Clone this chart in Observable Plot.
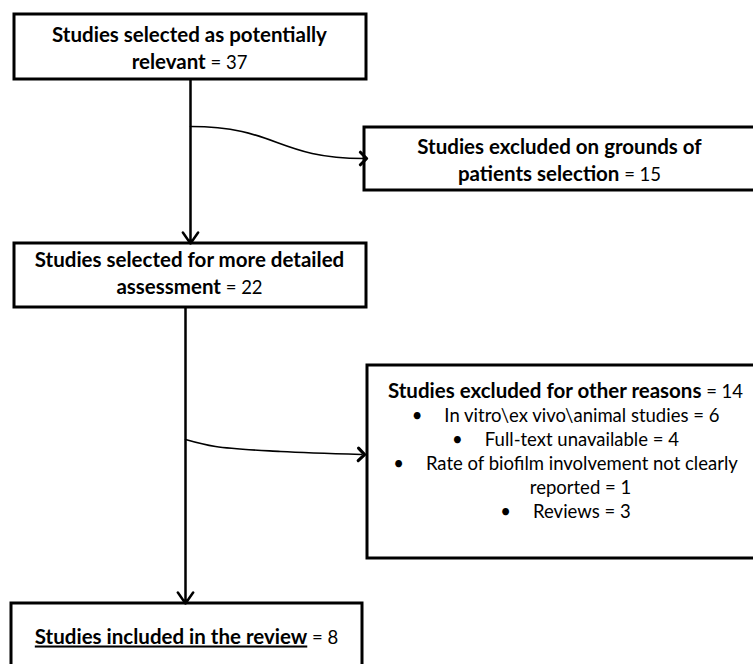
<!DOCTYPE html>
<html><head><meta charset="utf-8">
<script src="https://cdn.jsdelivr.net/npm/d3@7"></script>
<script src="https://cdn.jsdelivr.net/npm/@observablehq/plot@0.6"></script>
<style>body{margin:0;background:#fff} svg{display:block}</style>
</head><body><div id="chart"></div>
<script>
// ---- data ----
const stageLines = [
  ["Studies selected as potentially", "relevant"],
  ["Studies excluded on grounds of", "patients selection"],
  ["Studies selected for more detailed", "assessment"],
  ["Studies excluded for other reasons"],
  ["Studies included in the review"]
];
const stageCounts = [37, 15, 22, 14, 8];
const reasonLabels = ["In vitro\\ex vivo\\animal studies", "Full-text unavailable", "Rate of biofilm involvement not clearly", "Reviews"];
const reasonCounts = [6, 4, 1, 3];
const reasonContinuation = ["", "", "reported", ""];

// ---- layout ----
const W = 753, H = 664;
const boxes = [
  {x1: 14, x2: 366, y1: 14, y2: 79, cx: 189, base: 41},
  {x1: 364, x2: 780, y1: 127, y2: 190, cx: 559, base: 153},
  {x1: 14, x2: 366, y1: 243, y2: 307, cx: 189, base: 266},
  {x1: 367, x2: 780, y1: 365, y2: 558, cx: 565, base: 397},
  {x1: 11, x2: 362, y1: 603, y2: 700, cx: 186, base: 643}
];
const titleLH = 27, listLH = 24;
const BOLD_SIZE = 20.5, REG_SIZE = 18.5;

const lines = [];
stageLines.forEach((ls, i) => {
  const b = boxes[i];
  ls.forEach((t, j) => {
    const last = j === ls.length - 1;
    lines.push({x: b.cx, y: b.base + j * titleLH, bold: t, reg: last ? " = " + stageCounts[i] : "", underline: i === 4, bullet: false});
  });
});
{
  const b = boxes[3];
  let y = b.base;
  reasonLabels.forEach((r, k) => {
    y += listLH;
    const cont = reasonContinuation[k];
    lines.push({x: b.cx, y, bold: "", reg: cont ? r : r + " = " + reasonCounts[k], bullet: true});
    if (cont) {
      y += listLH;
      lines.push({x: 580, y, bold: "", reg: cont + " = " + reasonCounts[k], bullet: false});
    }
  });
}

const trunks = [
  {x1: 190, y1: boxes[0].y2, x2: 190, y2: boxes[2].y1},
  {x1: 185, y1: boxes[2].y2, x2: 185, y2: boxes[4].y1}
];
const branch1 = [{x: 190, y: 126}, {x: boxes[1].x1 - 1, y: 158}];
const branch2 = [{x: 185, y: 439}, {x: 215, y: 446}, {x: 280, y: 451}, {x: boxes[3].x1 - 6, y: 454}];

const FONT = "Lato, 'Open Sans', sans-serif";

const chart = Plot.plot({
  width: W, height: H, margin: 0,
  x: {domain: [0, W], axis: null},
  y: {domain: [0, H], reverse: true, axis: null},
  marks: [
    Plot.rect(boxes, {x1: "x1", x2: "x2", y1: "y1", y2: "y2", fill: "white", stroke: "black", strokeWidth: 3}),
    Plot.arrow(trunks, {x1: "x1", y1: "y1", x2: "x2", y2: "y2", stroke: "black", strokeWidth: 2.5, headAngle: 70, headLength: 8}),
    Plot.line(branch1, {x: "x", y: "y", curve: "bump-x", stroke: "black", strokeWidth: 1.6, markerEnd: "arrow"}),
    Plot.line(branch2, {x: "x", y: "y", curve: "catmull-rom", stroke: "black", strokeWidth: 1.6, markerEnd: "arrow"}),
    Plot.text(lines, {x: "x", y: "y", text: d => d.bold + d.reg, lineAnchor: "bottom", textAnchor: "middle", fontFamily: FONT, fontSize: REG_SIZE, fill: "black"})
  ]
});

// larger open arrowheads on the branch connectors
chart.querySelectorAll("marker").forEach(m => {
  m.setAttribute("markerWidth", 13);
  m.setAttribute("markerHeight", 13);
});

// rich text: bold / regular / bullets
const ns = "http://www.w3.org/2000/svg";
const texts = chart.querySelectorAll('g[aria-label="text"] text');
texts.forEach((el, i) => {
  const d = lines[i];
  el.textContent = "";
  if (d.bullet) {
    const b = document.createElementNS(ns, "tspan");
    b.textContent = "\u2022";
    el.appendChild(b);
  }
  if (d.bold) {
    const t = document.createElementNS(ns, "tspan");
    t.setAttribute("font-weight", "bold");
    t.setAttribute("font-size", BOLD_SIZE);
    if (d.underline) t.setAttribute("text-decoration", "underline");
    t.textContent = d.bold;
    el.appendChild(t);
  }
  if (d.reg) {
    const t = document.createElementNS(ns, "tspan");
    if (d.bullet) t.setAttribute("dx", 22);
    t.textContent = d.reg;
    el.appendChild(t);
  }
});
document.getElementById("chart").appendChild(chart);
</script>
</body></html>
